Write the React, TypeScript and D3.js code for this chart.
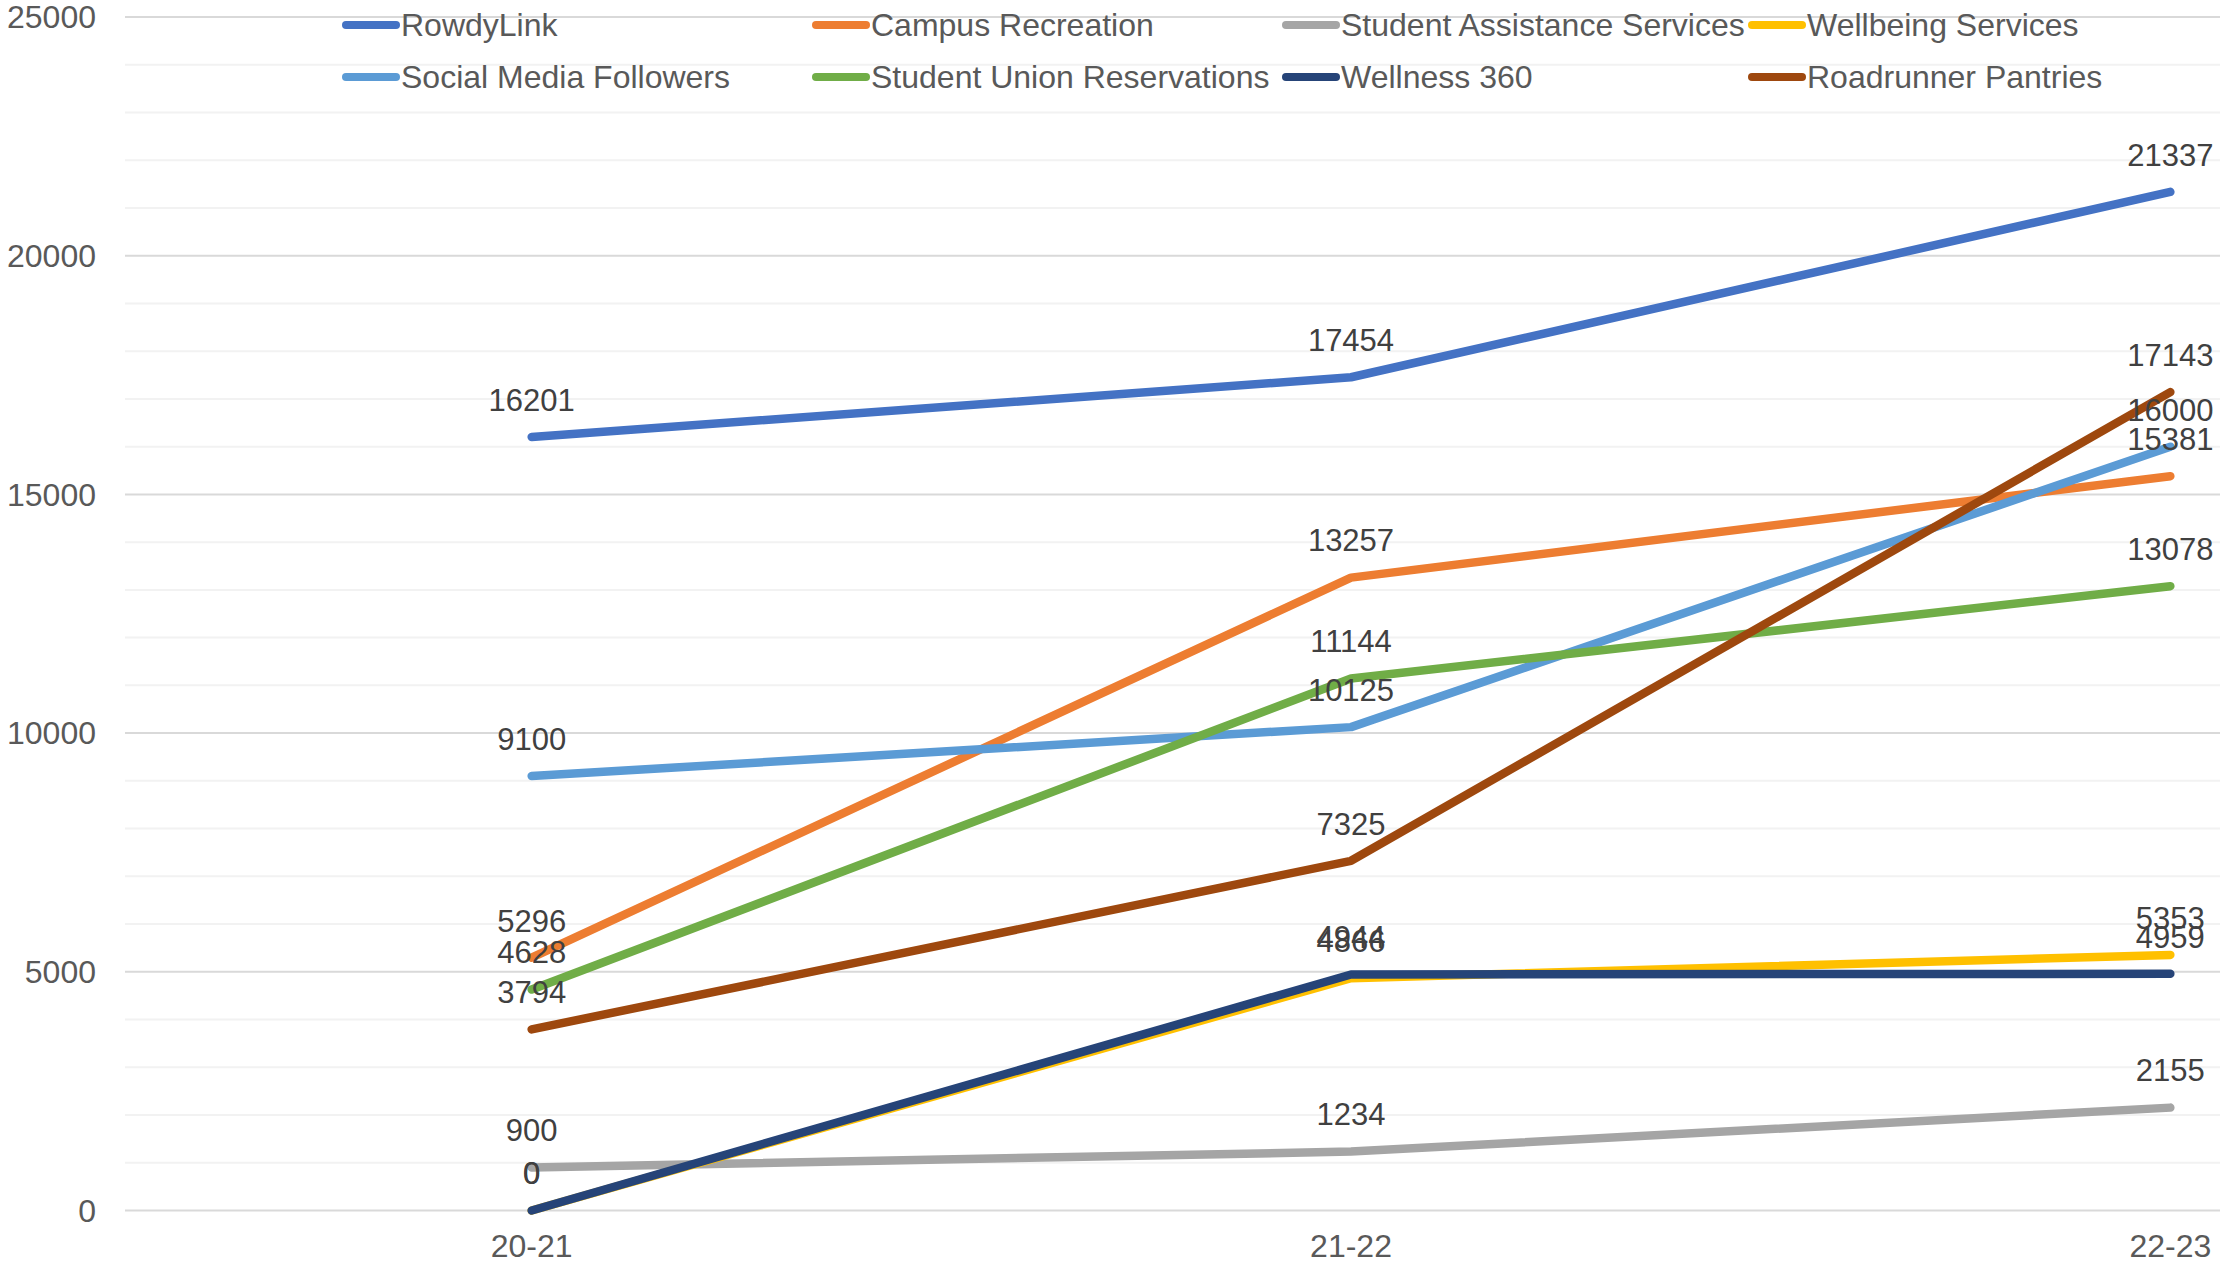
import React from "react";
import * as d3 from "d3";

const categories = ["20-21", "21-22", "22-23"];
const seriesNames = [
  "RowdyLink",
  "Campus Recreation",
  "Student Assistance Services",
  "Wellbeing Services",
  "Social Media Followers",
  "Student Union Reservations",
  "Wellness 360",
  "Roadrunner Pantries",
];
const rowdyLink = [16201, 17454, 21337];
const campusRecreation = [5296, 13257, 15381];
const studentAssistance = [900, 1234, 2155];
const wellbeingServices = [0, 4866, 5353];
const socialMedia = [9100, 10125, 16000];
const studentUnion = [4628, 11144, 13078];
const wellness360 = [0, 4944, 4959];
const roadrunnerPantries = [3794, 7325, 17143];
const seriesColors = ["#4472C4", "#ED7D31", "#A5A5A5", "#FFC000", "#5B9BD5", "#70AD47", "#264478", "#9E480E"];
const yTicks = [0, 5000, 10000, 15000, 20000, 25000];

const W = 2220;
const H = 1268;
const FONT = "'Liberation Sans', Arial, sans-serif";

export default function App() {
  const values = [rowdyLink, campusRecreation, studentAssistance, wellbeingServices, socialMedia, studentUnion, wellness360, roadrunnerPantries];
  const series = seriesNames.map((name, i) => ({ name, color: seriesColors[i], values: values[i] }));

  const x = d3.scaleBand<string>().domain(categories).range([122, 2580]);
  const cx = (c: string) => (x(c) as number) + x.bandwidth() / 2;
  const y = d3.scaleLinear().domain([0, 25000]).range([1210.5, 17]);
  const gridL = 125;
  const minor = d3.range(0, 25001, 1000).filter((v) => v % 5000 !== 0);

  const line = d3
    .line<number>()
    .x((_, i) => cx(categories[i]))
    .y((d) => y(d));

  const legendCols = [342, 812, 1282, 1748];
  const legendRows = [25, 77];

  return (
    <svg width={W} height={H} style={{ position: "absolute", left: 0, top: 0, background: "#fff" }} fontFamily={FONT}>
      <rect x={0} y={0} width={W} height={H} fill="#fff" />
      {minor.map((v) => (
        <line key={"m" + v} x1={gridL} x2={W} y1={y(v)} y2={y(v)} stroke="#F2F2F2" strokeWidth={2} />
      ))}
      {yTicks.map((v) => (
        <line key={"g" + v} x1={gridL} x2={W} y1={y(v)} y2={y(v)} stroke="#D9D9D9" strokeWidth={2} />
      ))}
      {yTicks.map((v) => (
        <text key={"t" + v} x={96} y={y(v)} dy="0.35em" textAnchor="end" fontSize={32} fill="#595959">
          {v}
        </text>
      ))}
      {categories.map((c) => (
        <text key={c} x={cx(c)} y={1246} dy="0.35em" textAnchor="middle" fontSize={32} fill="#595959">
          {c}
        </text>
      ))}
      {series.map((s) => (
        <path key={s.name} d={line(s.values) || ""} fill="none" stroke={s.color} strokeWidth={8.5} strokeLinecap="round" strokeLinejoin="round" />
      ))}
      {series.map((s) =>
        s.values.map((v, i) => (
          <text key={s.name + i} x={cx(categories[i])} y={y(v) - 37} dy="0.35em" textAnchor="middle" fontSize={31} fill="#404040">
            {v}
          </text>
        ))
      )}
      {series.map((s, i) => {
        const col = i % 4;
        const row = Math.floor(i / 4);
        const lx = legendCols[col];
        const ly = legendRows[row];
        return (
          <g key={"l" + s.name}>
            <line x1={lx + 4} x2={lx + 54} y1={ly} y2={ly} stroke={s.color} strokeWidth={8} strokeLinecap="round" />
            <text x={lx + 59} y={ly} dy="0.35em" fontSize={32} fill="#595959">
              {s.name}
            </text>
          </g>
        );
      })}
    </svg>
  );
}
